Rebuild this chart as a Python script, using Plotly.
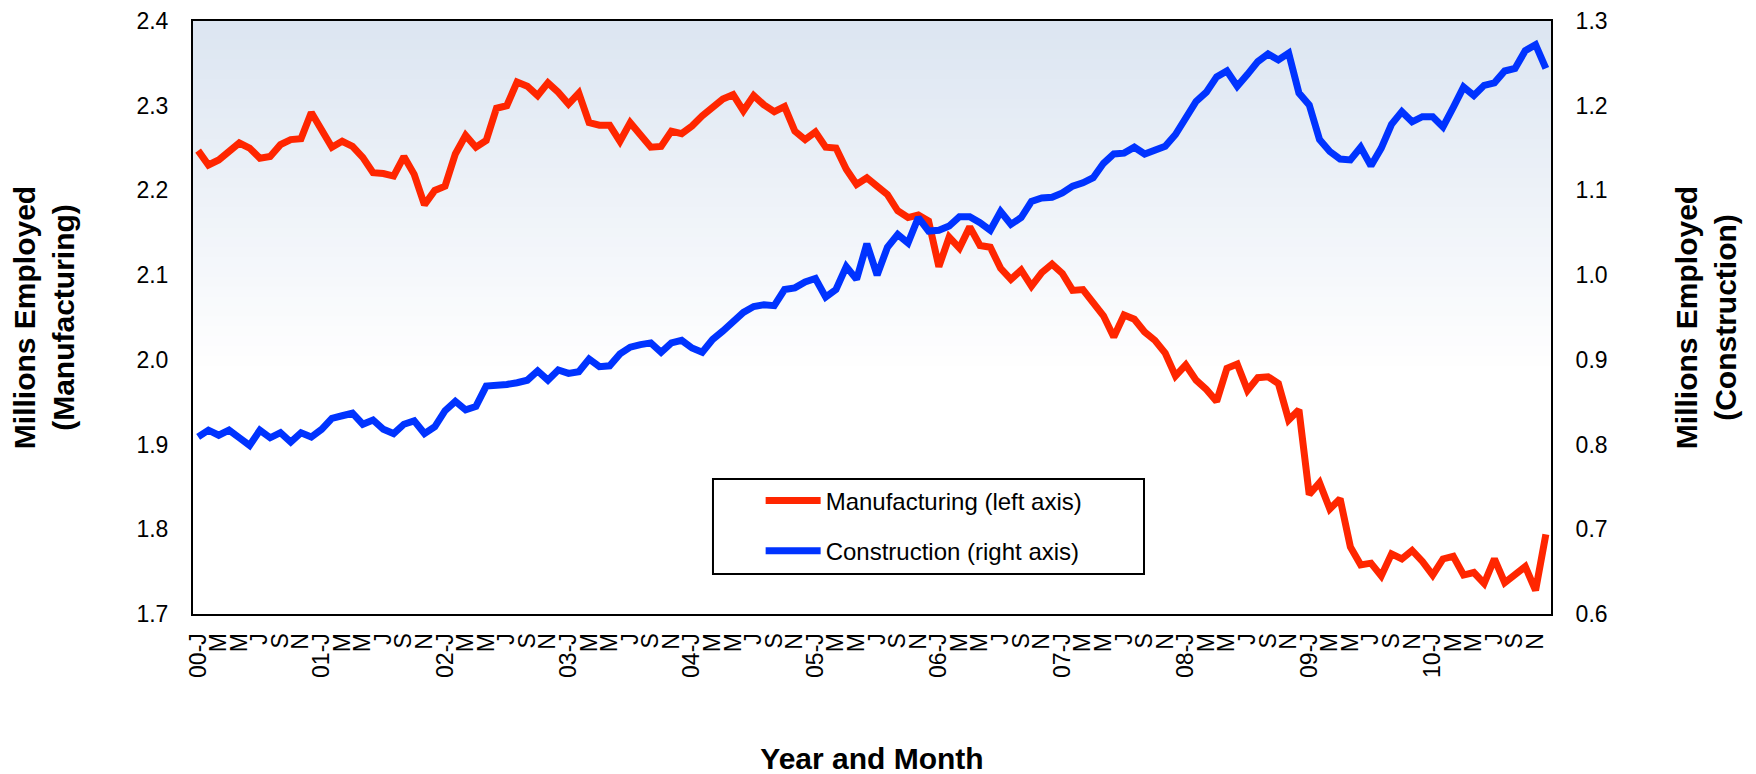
import plotly.graph_objects as go

# ---------------- data ----------------
years = ["00", "01", "02", "03", "04", "05", "06", "07", "08", "09", "10"]
month_initials = ["J", "F", "M", "A", "M", "J", "J", "A", "S", "O", "N", "D"]

months = [f"20{y}-{m:02d}" for y in years for m in range(1, 13)]
tick_months = months[::2]
tick_labels = [(f"{mo[2:4]}-J" if mo.endswith("-01") else month_initials[int(mo[5:]) - 1])
               for mo in tick_months]

manufacturing = [
    2.247, 2.230, 2.236, 2.247, 2.256, 2.250, 2.238, 2.240, 2.254, 2.260, 2.261, 2.292,
    2.271, 2.251, 2.258, 2.252, 2.239, 2.221, 2.220, 2.217, 2.240, 2.219, 2.183, 2.200,
    2.205, 2.243, 2.265, 2.251, 2.259, 2.297, 2.300, 2.328, 2.323, 2.312, 2.327, 2.316,
    2.302, 2.315, 2.280, 2.277, 2.277, 2.258, 2.280, 2.265, 2.251, 2.252, 2.270, 2.267,
    2.276, 2.288, 2.299, 2.308, 2.313, 2.294, 2.312, 2.301, 2.293, 2.299, 2.270, 2.260,
    2.269, 2.251, 2.250, 2.225, 2.207, 2.215, 2.205, 2.195, 2.176, 2.168, 2.171, 2.164,
    2.110, 2.145, 2.132, 2.157, 2.135, 2.133, 2.108, 2.095, 2.106, 2.087, 2.103, 2.113,
    2.102, 2.082, 2.083, 2.069, 2.052, 2.027, 2.053, 2.048, 2.033, 2.023, 2.008, 1.981,
    1.994, 1.976, 1.965, 1.951, 1.990, 1.995, 1.964, 1.979, 1.980, 1.972, 1.929, 1.941,
    1.841, 1.855, 1.824, 1.836, 1.779, 1.758, 1.760, 1.745, 1.771, 1.765, 1.775, 1.762,
    1.746, 1.765, 1.768, 1.746, 1.749, 1.736, 1.765, 1.737, 1.746, 1.756, 1.728, 1.794,
]

construction = [
    0.809, 0.817, 0.811, 0.817, 0.808, 0.799, 0.817, 0.808, 0.814, 0.803, 0.814, 0.809,
    0.818, 0.831, 0.834, 0.837, 0.824, 0.829, 0.818, 0.813, 0.824, 0.828, 0.813, 0.821,
    0.840, 0.851, 0.841, 0.845, 0.869, 0.869, 0.871, 0.873, 0.876, 0.887, 0.876, 0.888,
    0.884, 0.886, 0.901, 0.892, 0.893, 0.907, 0.915, 0.918, 0.920, 0.909, 0.920, 0.923,
    0.914, 0.909, 0.924, 0.934, 0.946, 0.956, 0.963, 0.965, 0.964, 0.983, 0.985, 0.992,
    0.996, 0.974, 0.983, 1.010, 0.995, 1.037, 1.000, 1.033, 1.048, 1.038, 1.068, 1.052,
    1.053, 1.058, 1.069, 1.069, 1.062, 1.053, 1.075, 1.060, 1.068, 1.087, 1.091, 1.092,
    1.097, 1.105, 1.109, 1.115, 1.132, 1.143, 1.144, 1.151, 1.143, 1.147, 1.152, 1.166,
    1.186, 1.205, 1.216, 1.234, 1.241, 1.223, 1.237, 1.252, 1.261, 1.254, 1.262, 1.215,
    1.201, 1.160, 1.146, 1.137, 1.136, 1.151, 1.129, 1.150, 1.178, 1.193, 1.181, 1.187,
    1.187, 1.175, 1.198, 1.222, 1.212, 1.224, 1.227, 1.241, 1.244, 1.265, 1.272, 1.244,
]

left_ticks = [1.7, 1.8, 1.9, 2.0, 2.1, 2.2, 2.3, 2.4]
right_ticks = [0.6, 0.7, 0.8, 0.9, 1.0, 1.1, 1.2, 1.3]

# ---------------- figure ----------------
FONT = "Liberation Sans, Arial, sans-serif"
RED = "#FF2600"
BLUE = "#0033FF"

fig = go.Figure()
fig.add_trace(go.Scatter(
    x=months, y=manufacturing, mode="lines", name="Manufacturing (left axis)",
    line=dict(color=RED, width=7), legendgroup="m", yaxis="y",
))
fig.add_trace(go.Scatter(
    x=months, y=construction, mode="lines", name="Construction (right axis)",
    line=dict(color=BLUE, width=7), legendgroup="c", yaxis="y2",
))

# gradient background of the plot area (top light blue -> white)
shapes = []
n = 60
top = (220, 229, 241)
for k in range(n):
    f0 = k / n
    f1 = (k + 1) / n
    t = min(1.0, (f0 + 0.5 / n) / 0.6)
    c = tuple(int(round(top[j] + (255 - top[j]) * t)) for j in range(3))
    shapes.append(dict(
        type="rect", xref="paper", yref="paper",
        x0=0, x1=1, y0=1 - f1, y1=1 - f0 + 0.002,
        fillcolor=f"rgb{c}", line=dict(width=0), layer="below",
    ))
# legend frame
shapes.append(dict(
    type="rect", xref="paper", yref="paper",
    x0=0.3829, x1=0.7003, y0=0.0675, y1=0.2277,
    fillcolor="white", line=dict(color="black", width=2), layer="below",
))

fig.update_layout(
    template="none",
    width=1756, height=774,
    margin=dict(l=185, r=213, t=13, b=168, autoexpand=False),
    paper_bgcolor="white", plot_bgcolor="white",
    font=dict(family=FONT, color="black", size=23),
    shapes=shapes,
    showlegend=True,
    legend=dict(
        x=0.418, y=0.2285, xanchor="left", yanchor="top",
        bgcolor="rgba(0,0,0,0)", borderwidth=0,
        font=dict(family=FONT, size=24, color="black"),
        itemwidth=55, traceorder="grouped", tracegroupgap=16,
    ),
    xaxis=dict(
        type="category", automargin=False,
        range=[-0.5, len(months) - 0.5],
        tickmode="array", tickvals=tick_months, ticktext=tick_labels,
        tickangle=-90, ticks="", showgrid=False, zeroline=False,
        showline=True, linecolor="black", linewidth=2, mirror=True,
        tickfont=dict(family=FONT, size=23),
        ticklabelstandoff=8, ticklabeloverflow="allow",
        title=dict(text="<b>Year and Month</b>", font=dict(family=FONT, size=30), standoff=71),
    ),
    yaxis=dict(
        automargin=False,
        range=[1.7, 2.4], tickmode="array", tickvals=left_ticks,
        ticktext=[f"{v:.1f}" for v in left_ticks],
        ticks="", showgrid=False, zeroline=False,
        showline=True, linecolor="black", linewidth=2, mirror=True,
        tickfont=dict(family=FONT, size=23),
        ticklabelstandoff=18, ticklabeloverflow="allow",
        title=dict(text="<b>Millions Employed<br>(Manufacturing)</b>",
                   font=dict(family=FONT, size=30), standoff=55),
    ),
    yaxis2=dict(
        automargin=False,
        range=[0.6, 1.3], overlaying="y", side="right",
        tickmode="array", tickvals=right_ticks,
        ticktext=[f"{v:.1f}" for v in right_ticks],
        ticks="", showgrid=False, zeroline=False,
        showline=True, linecolor="black", linewidth=2,
        tickfont=dict(family=FONT, size=23),
        ticklabelstandoff=18, ticklabeloverflow="allow",
        title=dict(text="<b>Millions Employed<br>(Construction)</b>",
                   font=dict(family=FONT, size=30), standoff=69),
    ),
)

fig.write_html("out.html")
